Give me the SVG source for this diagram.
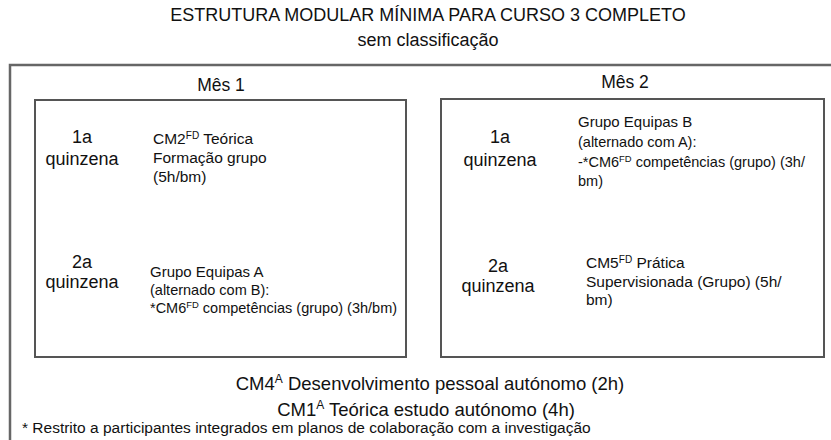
<svg xmlns="http://www.w3.org/2000/svg" width="831" height="440" viewBox="0 0 831 440">
<style>
text{font-family:"Liberation Sans",Arial,sans-serif;fill:#111}
.title{font-size:18px;text-anchor:middle}
.mes{font-size:17.5px;text-anchor:middle}
.q{font-size:18px;text-anchor:middle}
.t{font-size:15.5px}
.g{font-size:15px}
.s{font-size:14.5px}
.big{font-size:18.5px;text-anchor:middle}
.foot{font-size:15.5px}
.sup{font-size:65%}
.box{fill:none;stroke:#555;stroke-width:2}
</style>
<rect width="831" height="440" fill="#fff"/>
<g id="header">
<text class="title" x="428" y="21">ESTRUTURA MODULAR MÍNIMA PARA CURSO 3 COMPLETO</text>
<text class="title" x="428" y="46">sem classificação</text>
</g>
<g id="outer">
<path d="M10 440 V65 H831" fill="none" stroke="#666" stroke-width="2.5"/>
</g>
<g id="mes1">
<text class="mes" x="221" y="91">Mês 1</text>
<rect class="box" x="35" y="100" width="371" height="257"/>
<text class="q" x="82" y="143">1a</text>
<text class="q" x="82" y="165">quinzena</text>
<text class="t" x="153" y="144">CM2<tspan class="sup" baseline-shift="super">FD</tspan> Teórica</text>
<text class="t" x="153" y="163">Formação grupo</text>
<text class="t" x="153" y="182">(5h/bm)</text>
<text class="q" x="82" y="268">2a</text>
<text class="q" x="82" y="288">quinzena</text>
<text class="g" x="150" y="277">Grupo Equipas A</text>
<text class="s" x="150" y="295">(alternado com B):</text>
<text class="s" x="150" y="313">*CM6<tspan class="sup" baseline-shift="super">FD</tspan> competências (grupo) (3h/bm)</text>
</g>
<g id="mes2">
<text class="mes" x="625" y="88">Mês 2</text>
<rect class="box" x="441" y="99" width="383" height="258"/>
<text class="q" x="500" y="143">1a</text>
<text class="q" x="500" y="166">quinzena</text>
<text class="g" x="578" y="127">Grupo Equipas B</text>
<text class="s" x="578" y="147">(alternado com A):</text>
<text class="s" x="578" y="167">-*CM6<tspan class="sup" baseline-shift="super">FD</tspan> competências (grupo) (3h/</text>
<text class="s" x="578" y="186">bm)</text>
<text class="q" x="498" y="272">2a</text>
<text class="q" x="498" y="292">quinzena</text>
<text class="t" x="586" y="268">CM5<tspan class="sup" baseline-shift="super">FD</tspan> Prática</text>
<text class="t" x="586" y="287">Supervisionada (Grupo) (5h/</text>
<text class="t" x="586" y="305">bm)</text>
</g>
<g id="footer">
<text class="big" x="430" y="390">CM4<tspan class="sup" baseline-shift="super">A</tspan> Desenvolvimento pessoal autónomo (2h)</text>
<text class="big" x="426" y="416">CM1<tspan class="sup" baseline-shift="super">A</tspan> Teórica estudo autónomo (4h)</text>
<text class="foot" x="22" y="433">* Restrito a participantes integrados em planos de colaboração com a investigação</text>
</g>
<g id="connectors"/>
</svg>
